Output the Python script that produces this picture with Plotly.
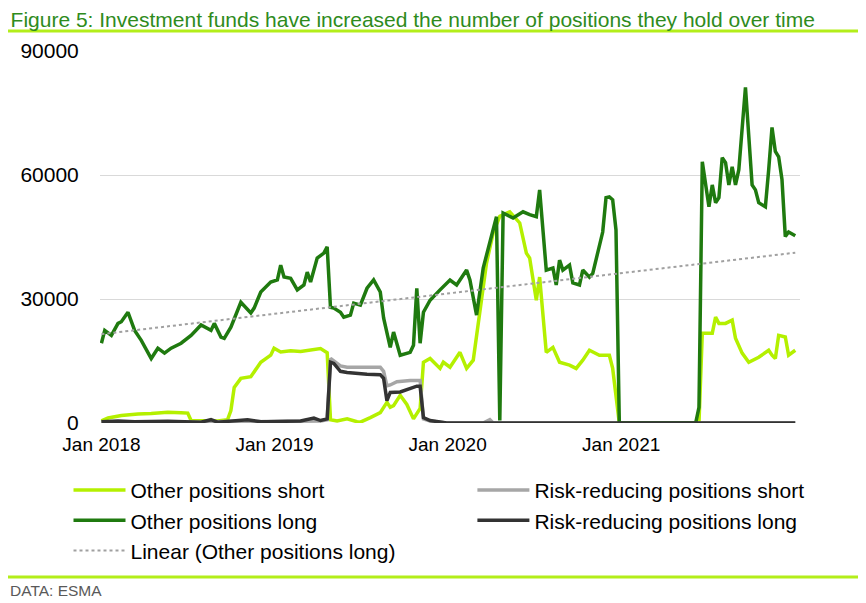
import numpy as np
import pandas as pd
import plotly.graph_objects as go

START = pd.Timestamp("2018-01-01")

# week numbers counted from Jan 2018
lime_weeks = [0, 2, 6, 11, 15, 20, 24, 26, 27, 30, 35, 38, 39, 40, 42, 45, 48, 51, 52, 54,
              57, 60, 63, 66, 68, 69, 71, 74, 77, 78, 81, 84, 86, 87, 88, 90, 92, 94, 96, 97,
              99, 102, 103, 105, 108, 110, 112, 114, 116, 118, 120, 123, 126, 128, 129, 131, 132, 134, 136, 138,
              141, 143, 145, 147, 150, 153, 154, 156, 180, 181, 184, 185, 186, 188, 190, 191, 193, 195, 198, 201,
              202, 203, 204, 206, 207, 209]
other_short = [500, 1200, 1800, 2200, 2300, 2600, 2500, 2400, 600, 500, 500, 800, 3000, 8600, 10800, 11200, 14700, 16400, 18100, 17200,
               17500, 17300, 17600, 18000, 17000, 800, 500, 1000, 300, 200, 1300, 2500, 5000, 3800, 4200, 6700, 4500, 1000, 3500, 14700,
               15600, 13200, 14700, 13500, 17100, 13200, 15200, 26600, 38700, 46000, 50000, 51100, 48400, 41100, 39900, 29700, 35300, 17100, 18300, 14700,
               14000, 13200, 15200, 17600, 16400, 16400, 13200, 0, 0, 21700, 21700, 25600, 24100, 24100, 24900, 20500, 16900, 14700, 15900, 17600,
               16400, 15600, 21200, 20800, 16400, 17600]

green_weeks = [0, 1, 3, 5, 6, 7, 8, 10, 12, 15, 17, 19, 21, 24, 27, 30, 31, 33, 34, 36,
               37, 39, 42, 45, 46, 48, 51, 53, 54, 55, 57, 59, 61, 62, 63, 65, 67, 68, 69, 70,
               72, 73, 75, 76, 78, 80, 82, 84, 85, 87, 88, 90, 93, 94, 95, 96, 97, 99, 102, 105,
               107, 110, 111, 113, 115, 117, 119, 120, 121, 124, 127, 129, 131, 132, 134, 136, 137, 138, 139, 141,
               142, 144, 145, 147, 148, 151, 152, 153, 154, 155, 156, 179, 180, 181, 183, 184, 185, 186, 187, 188,
               189, 190, 191, 192, 194, 196, 197, 198, 200, 201, 202, 203, 204, 205, 206, 207, 209]
other_long = [19300, 22400, 21200, 24100, 24500, 25500, 26800, 22400, 20000, 15600, 18100, 16900, 18100, 19300, 21200, 23700, 23200, 22400, 24100, 20800,
              20500, 23200, 29200, 26600, 27800, 31700, 34100, 34600, 38200, 35300, 35000, 32200, 33400, 36500, 34100, 39900, 41100, 42600, 28000, 27800,
              26800, 25600, 26100, 29000, 28500, 32600, 34600, 31700, 25400, 18300, 22000, 16400, 17100, 18800, 32600, 19300, 26800, 29700, 32200, 34600,
              33400, 37000, 34600, 26100, 37500, 43600, 49900, 600, 50800, 49600, 51100, 50400, 49900, 56400, 37000, 37500, 33400, 39400, 37000, 38200,
              33900, 33400, 37000, 35300, 36200, 46200, 54500, 54700, 54000, 46700, 0, 0, 3800, 63200, 52300, 57600, 53300, 54500, 64200, 63000,
              57600, 62000, 57600, 61300, 81200, 57600, 56400, 53300, 52300, 61300, 71500, 65700, 64400, 58900, 45100, 46200, 45300]

grey_weeks = [0, 10, 20, 30, 40, 50, 60, 66, 68, 69, 70, 72, 74, 84, 85, 86, 87, 89, 93, 96,
              97, 99, 102, 104, 115, 117, 118, 209]
risk_short = [200, 300, 300, 200, 400, 300, 400, 500, 800, 15600, 15000, 13800, 13500, 13500, 12500, 9000, 9200, 10000, 10300, 10300,
              1000, 500, 200, 0, 0, 800, 0, 0]

black_weeks = [0, 5, 10, 20, 30, 33, 35, 40, 44, 48, 55, 60, 64, 66, 68, 69, 70, 72, 74, 76,
               80, 84, 85, 86, 87, 90, 93, 95, 96, 97, 99, 101, 104, 209]
risk_long = [300, 500, 300, 400, 200, 800, 200, 500, 800, 300, 400, 500, 1200, 600, 1000, 14700, 14400, 12500, 12200, 12000,
             11800, 11700, 10800, 5400, 7400, 7500, 8400, 8900, 8900, 1300, 600, 300, 0, 0]

trend_weeks = [0, 209]
trend_long = [21500, 41200]

tick_dates = ["2018-01-01", "2019-01-01", "2020-01-01", "2021-01-01"]
tick_text = ["Jan 2018", "Jan 2019", "Jan 2020", "Jan 2021"]


def to_dates(weeks):
    return START + pd.to_timedelta(np.array(weeks) * 7, unit="D")


LIME = "#b4f000"
GREEN = "#1f7a0f"
GREY = "#a6a6a6"
DARK = "#333333"
FONT = "Liberation Sans, Arial, sans-serif"

fig = go.Figure()
fig.add_trace(go.Scatter(x=to_dates(lime_weeks), y=other_short, mode="lines", name="Other positions short",
                         line=dict(color=LIME, width=3.5), legend="legend", legendgroup="a"))
fig.add_trace(go.Scatter(x=to_dates(grey_weeks), y=risk_short, mode="lines", name="Risk-reducing positions short",
                         line=dict(color=GREY, width=3.5), legend="legend2", legendgroup="b"))
fig.add_trace(go.Scatter(x=to_dates(green_weeks), y=other_long, mode="lines", name="Other positions long",
                         line=dict(color=GREEN, width=3.5), legend="legend", legendgroup="c"))
fig.add_trace(go.Scatter(x=to_dates(black_weeks), y=risk_long, mode="lines", name="Risk-reducing positions long",
                         line=dict(color=DARK, width=3.5), legend="legend2", legendgroup="d"))
fig.add_trace(go.Scatter(x=to_dates(trend_weeks), y=trend_long, mode="lines", name="Linear (Other positions long)",
                         line=dict(color="#a0a0a0", width=2, dash="dot"), legend="legend", legendgroup="e"))

legend_style = dict(font=dict(family=FONT, size=21, color="#000000"), bgcolor="rgba(0,0,0,0)",
                    tracegroupgap=0, itemwidth=52, yanchor="top", y=-0.126, xanchor="left")

# page body adds an 8px margin, so the figure is a bit smaller than the window
fig.update_layout(
    width=858,
    height=595,
    margin=dict(l=89, r=66, t=43, b=180),
    paper_bgcolor="white",
    plot_bgcolor="white",
    font=dict(family=FONT, size=20, color="#000000"),
    title=dict(text="Figure 5: Investment funds have increased the number of positions they hold over time",
               font=dict(family=FONT, size=21, color="#2e8b1c"),
               xref="container", x=0.003, xanchor="left", yref="container", y=0.993, yanchor="top",
               pad=dict(t=0, l=0)),
    xaxis=dict(type="date", range=["2017-12-29", "2022-01-13"], tickvals=tick_dates, ticktext=tick_text,
               showgrid=False, zeroline=False, showline=False, ticks="", ticklabelstandoff=8,
               tickfont=dict(size=19)),
    yaxis=dict(range=[0, 90000], tickvals=[0, 30000, 60000, 90000], tickformat="d",
               showgrid=True, gridcolor="#d9d9d9", gridwidth=1, zeroline=False, showline=False,
               ticks="outside", ticklen=16, tickcolor="rgba(0,0,0,0)", tickfont=dict(size=21)),
    legend=dict(x=-0.045, **legend_style),
    legend2=dict(x=0.532, **legend_style),
    showlegend=True,
    shapes=[
        dict(type="line", xref="paper", yref="paper", x0=-0.134, x1=1.085, y0=1.054, y1=1.054,
             line=dict(color="#b3ee1a", width=3)),
        dict(type="line", xref="paper", yref="paper", x0=-0.134, x1=1.085, y0=-0.414, y1=-0.414,
             line=dict(color="#b3ee1a", width=3)),
    ],
    annotations=[
        dict(text="DATA: ESMA", xref="paper", yref="paper", x=-0.131, y=-0.449, xanchor="left", yanchor="middle",
             showarrow=False, font=dict(family=FONT, size=15.5, color="#595959")),
    ],
)

fig.write_html("out.html")
